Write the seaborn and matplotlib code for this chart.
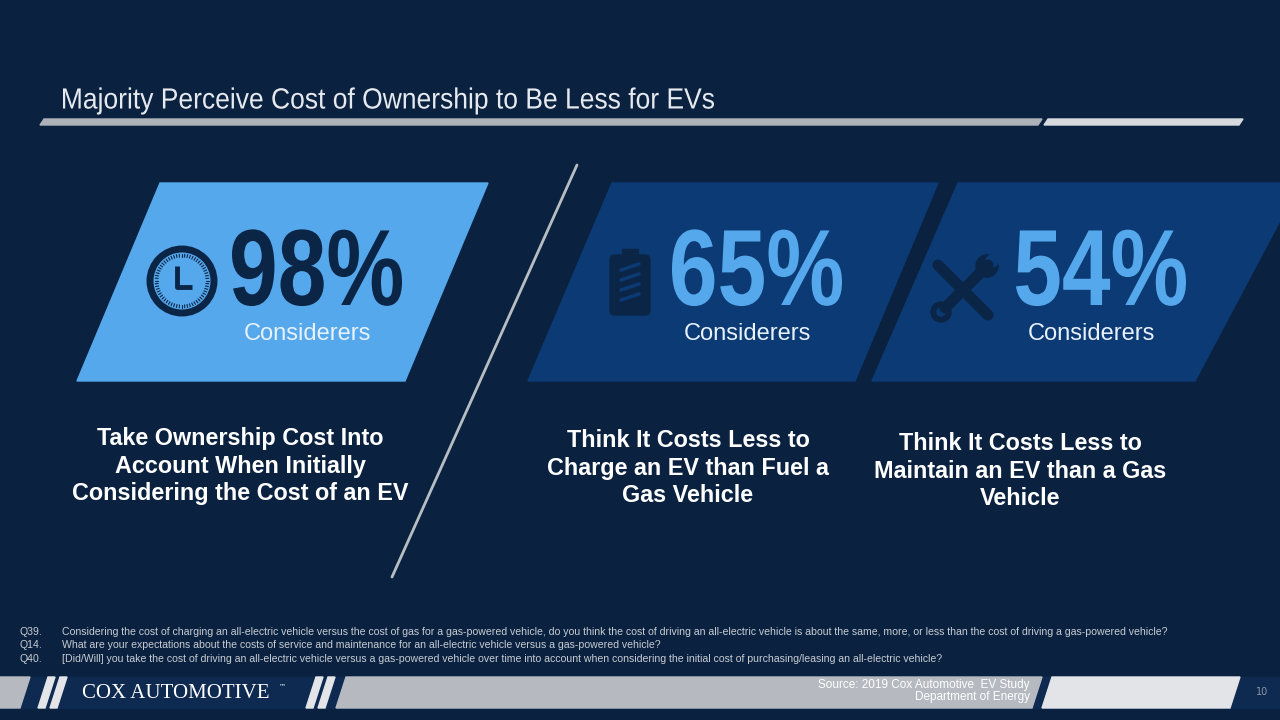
import matplotlib
matplotlib.use("Agg")
import matplotlib.pyplot as plt
import seaborn as sns
import numpy as np
from matplotlib.patches import Polygon, Circle, FancyBboxPatch, Rectangle, PathPatch
from matplotlib.textpath import TextPath
from matplotlib.font_manager import FontProperties
from matplotlib.transforms import Affine2D

sns.set_theme(style="white")

title = "Majority Perceive Cost of Ownership to Be Less for EVs"
percents = ["98%", "65%", "54%"]
sublabels = ["Considerers", "Considerers", "Considerers"]
descriptions = ["Take Ownership Cost Into\nAccount When Initially\nConsidering the Cost of an EV",
                "Think It Costs Less to\nCharge an EV than Fuel a\nGas Vehicle",
                "Think It Costs Less to\nMaintain an EV than a Gas\nVehicle"]
notes_q = ["Q39.", "Q14.", "Q40."]
notes_t = ["Considering the cost of charging an all-electric vehicle versus the cost of gas for a gas-powered vehicle, do you think the cost of driving an all-electric vehicle is about the same, more, or less than the cost of driving a gas-powered vehicle?",
           "What are your expectations about the costs of service and maintenance for an all-electric vehicle versus a gas-powered vehicle?",
           "[Did/Will] you take the cost of driving an all-electric vehicle versus a gas-powered vehicle over time into account when considering the initial cost of purchasing/leasing an all-electric vehicle?"]
source = "Source: 2019 Cox Automotive  EV Study\nDepartment of Energy"

BG = "#0a2240"
LIGHT = "#55a8ec"
DARK = "#0c3a74"
NAVY = "#0b2547"

fig = plt.figure(figsize=(12.8, 7.2), dpi=100)
fig.patch.set_facecolor(BG)
ax = fig.add_axes([0, 0, 1, 1])
ax.set_xlim(0, 1280); ax.set_ylim(720, 0); ax.axis("off")
ax.set_facecolor(BG)


def narrow_text(s, x, y, width, cap, color, weight="normal", anchor="center"):
    fp = FontProperties(family="Liberation Sans", weight=weight)
    tp = TextPath((0, 0), s, size=100, prop=fp)
    ext = tp.get_extents()
    sy = cap / 72.0
    sx = width / ext.width
    if anchor == "center":
        tx = x - (ext.x0 + ext.width / 2) * sx
    else:
        tx = x - ext.x0 * sx
    tr = Affine2D().scale(sx, -sy).translate(tx, y + 36 * sy)
    ax.add_patch(PathPatch(tr.transform_path(tp), color=color, lw=0))


narrow_text(title, 63, 98, 651, 21, "#e6e9ee", anchor="left")
ax.add_patch(Polygon([(44, 119), (1042, 119), (1038, 125), (40, 125)], color="#aeb3ba"))
ax.add_patch(Polygon([(1048, 119), (1243, 119), (1239, 125), (1044, 125)], color="#d6d9de"))

panels = [(160, 488, 77, 405, LIGHT, NAVY), (612, 938, 528, 855, DARK, LIGHT), (958, 1300, 872, 1195, DARK, LIGHT)]
num_x = [317, 757, 1101]
icon_x = [182, 630, 963]
desc_x = [240, 688, 1020]
desc_y = [466, 468, 471]
for i, (t0, t1, b0, b1, fc, nc) in enumerate(panels):
    ax.add_patch(Polygon([(t0, 183), (t1, 183), (b1, 381), (b0, 381)], color=fc))
    narrow_text(percents[i], num_x[i], 266, 170, 78, nc, weight="bold")
    ax.text(num_x[i] - 10, 334, sublabels[i], fontsize=17, color="#e8f2fc",
            family="Liberation Sans", ha="center", va="center")
    ax.text(desc_x[i], desc_y[i], descriptions[i], fontsize=16.8, fontweight="bold", color="white",
            family="Liberation Sans", ha="center", va="center", linespacing=1.25)

# icons
cx, cy = icon_x[0], 281
ax.add_patch(Circle((cx, cy), 32, fill=False, lw=5, ec=NAVY))
for a in np.linspace(0, 2*np.pi, 60, endpoint=False):
    ax.plot([cx + 24*np.cos(a), cx + 27*np.cos(a)], [cy + 24*np.sin(a), cy + 27*np.sin(a)], color=NAVY, lw=0.8)
ax.plot([cx - 5, cx - 5, cx + 10], [cy - 15, cy + 6, cy + 6], color=NAVY, lw=3.5, solid_capstyle="butt")

bx, by = icon_x[1], 283
ax.add_patch(FancyBboxPatch((bx - 20, by - 28), 40, 60, boxstyle="round,pad=0,rounding_size=5", color=NAVY))
ax.add_patch(Rectangle((bx - 8, by - 34), 16, 7, color=NAVY))
for k in range(4):
    yy = by - 16 + k * 10
    ax.plot([bx - 9, bx + 9], [yy + 3, yy - 3], color=DARK, lw=2.5)

wx, wy = icon_x[2], 290
ax.plot([wx - 25, wx + 25], [wy - 25, wy + 25], color=NAVY, lw=8, solid_capstyle="round")
ax.plot([wx + 25, wx - 18], [wy - 25, wy + 18], color=NAVY, lw=8, solid_capstyle="round")
ax.add_patch(Circle((wx - 22, wy + 22), 10, color=NAVY))
ax.add_patch(Circle((wx - 22, wy + 22), 4, color=DARK))
ax.add_patch(Circle((wx + 24, wy - 24), 11, color=NAVY))
ax.add_patch(Circle((wx + 29, wy - 29), 6, color=DARK))

# divider
ax.plot([577, 392], [165, 577], color="#b8bdc4", lw=2)

# notes
for k in range(3):
    ax.text(20, 632 + k * 13.5, notes_q[k], fontsize=7.6, color="#c8ccd3", family="Liberation Sans", va="center")
    ax.text(62, 632 + k * 13.5, notes_t[k], fontsize=7.6, color="#c8ccd3", family="Liberation Sans", va="center")

# footer
ax.add_patch(Rectangle((0, 677), 1280, 31, color="#0e2a50"))
ax.add_patch(Polygon([(0, 677), (30, 677), (20, 708), (0, 708)], color="#b6bac0"))
for x0 in [38, 306]:
    for d in [0, 12]:
        ax.add_patch(Polygon([(x0 + d + 10, 677), (x0 + d + 17, 677), (x0 + d + 7, 708), (x0 + d, 708)], color="#e3e5e8"))
ax.add_patch(Polygon([(346, 677), (1042, 677), (1032, 708), (336, 708)], color="#b6bac0"))
ax.add_patch(Polygon([(1052, 677), (1240, 677), (1230, 708), (1042, 708)], color="#e2e4e7"))
ax.text(82, 693, "COX AUTOMOTIVE", fontsize=15, color="white", family="Liberation Serif", va="center")
ax.text(279, 686, "™", fontsize=5, color="white", va="center")
ax.text(1030, 691, source, fontsize=8.5, color="white", family="Liberation Sans", ha="right", va="center", linespacing=1.1)
ax.text(1262, 692, "10", fontsize=7, color="#8c96a6", ha="center", va="center")

fig.savefig("out.png", dpi=100, facecolor=BG)
